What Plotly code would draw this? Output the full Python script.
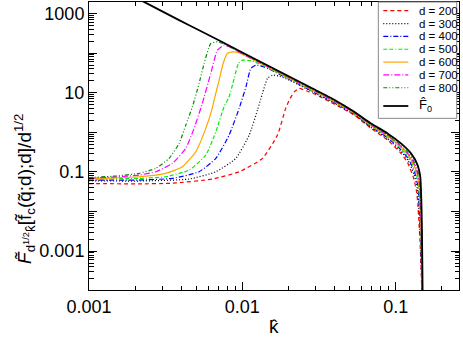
import plotly.graph_objects as go

# ---------------- data ----------------
series_names = ["d = 200", "d = 300", "d = 400", "d = 500", "d = 600", "d = 700", "d = 800"]

k_d200 = [0.001, 0.00212, 0.003497, 0.006379, 0.00953, 0.01353, 0.01694, 0.01917, 0.02021, 0.02178, 0.02349,
          0.02729, 0.03, 0.04, 0.05367, 0.0690, 0.08856, 0.1083, 0.11904, 0.1303, 0.13627, 0.13937, 0.14148,
          0.14407, 0.14801, 0.14801]
F_d200 = [0.051, 0.050, 0.052, 0.0662, 0.101, 0.220, 0.852, 4.02, 6.51, 10.5, 12.8,
          10.5, 9.08, 5.11, 2.723, 1.259, 0.6373, 0.2944, 0.1778, 0.07437, 0.03495, 0.01644, 0.006124,
          0.001914, 9.33e-5, 1e-5]

k_d300 = [0.001, 0.00212, 0.004495, 0.006714, 0.00907, 0.01108, 0.01255, 0.01353, 0.01458, 0.01572, 0.0175,
          0.02021, 0.02729, 0.04, 0.05367, 0.0690, 0.08856, 0.1083, 0.12039, 0.13198, 0.13791, 0.14073,
          0.14269, 0.14494, 0.14838, 0.14838]
F_d300 = [0.060, 0.059, 0.0662, 0.101, 0.220, 0.852, 3.64, 9.60, 22.9, 27.8, 26.1,
          20.8, 11.6, 5.38, 2.829, 1.334, 0.6890, 0.3307, 0.1967, 0.08548, 0.04078, 0.01912,
          0.006877, 0.002069, 9.55e-5, 1e-5]

k_d400 = [0.001, 0.00212, 0.003497, 0.005224, 0.006714, 0.008199, 0.00953, 0.01056, 0.01136, 0.01225, 0.0135,
          0.015, 0.02, 0.03, 0.04, 0.05367, 0.0690, 0.08856, 0.1083, 0.12142, 0.13326, 0.13918, 0.14174,
          0.14358, 0.14561, 0.14866, 0.14866]
F_d400 = [0.062, 0.0625, 0.0690, 0.1012, 0.2203, 0.852, 4.018, 14.09, 41.0, 49.7, 46.1,
          39.2, 22.2, 9.92, 5.58, 2.911, 1.393, 0.7304, 0.3608, 0.2121, 0.09491, 0.04579, 0.02141,
          0.007503, 0.002193, 9.72e-5, 1e-5]

k_d500 = [0.001, 0.00212, 0.003168, 0.004495, 0.005777, 0.006714, 0.0076, 0.008199, 0.008843, 0.009432,
          0.01001, 0.0115, 0.0135, 0.015, 0.02, 0.03, 0.04, 0.05367, 0.0690, 0.08856, 0.1083, 0.12243,
          0.13456, 0.14044, 0.14276, 0.14447, 0.14625, 0.1489, 0.1489]
F_d500 = [0.066, 0.0690, 0.0757, 0.1116, 0.2668, 1.033, 4.41, 7.88, 22.9, 54.8,
          66.4, 63.5, 49.5, 41.1, 23.1, 10.3, 5.80, 2.995, 1.455, 0.7745, 0.3936, 0.2288,
          0.10537, 0.05142, 0.02397, 0.008185, 0.002325, 9.89e-5, 1e-5]

k_d600 = [0.001, 0.0015, 0.00212, 0.003168, 0.004064, 0.004971, 0.005777, 0.006379, 0.006543, 0.007058,
          0.007494, 0.00798, 0.008616, 0.0095, 0.01, 0.015, 0.02, 0.03, 0.04, 0.05367, 0.0690, 0.08856,
          0.1083, 0.12311, 0.13546, 0.14128, 0.14345, 0.14511, 0.14672, 0.14911, 0.14911]
F_d600 = [0.069, 0.071, 0.0757, 0.0922, 0.1353, 0.3232, 1.258, 4.21, 6.51, 20.8,
          54.8, 98.0, 107.5, 103, 94.0, 42.2, 23.7, 10.6, 5.95, 3.053, 1.497, 0.8053,
          0.4173, 0.2406, 0.11298, 0.05556, 0.02585, 0.008673, 0.002417, 1.0e-4, 1e-5]

k_d700 = [0.001, 0.0015, 0.00212, 0.002724, 0.003497, 0.004277, 0.004845, 0.00544, 0.006226, 0.006879,
          0.0076, 0.008199, 0.01, 0.015, 0.02, 0.03, 0.04, 0.05367, 0.0690, 0.08856, 0.1083, 0.1238,
          0.13634, 0.14213, 0.14414, 0.14571, 0.14716, 0.14928, 0.14928]
F_d700 = [0.070, 0.075, 0.0835, 0.1012, 0.1648, 0.3937, 1.258, 4.87, 30.7, 118.7,
          158.7, 144.5, 96.4, 43.3, 24.3, 10.85, 6.10, 3.112, 1.542, 0.8372, 0.4421, 0.2531,
          0.12112, 0.06003, 0.02787, 0.009192, 0.002514, 1.012e-4, 1e-5]

k_d800 = [0.001, 0.0015, 0.00212, 0.002724, 0.003328, 0.003869, 0.004277, 0.004724, 0.005224, 0.005631,
          0.006226, 0.006879, 0.0076, 0.008199, 0.01, 0.015, 0.02, 0.03, 0.04, 0.05367, 0.0690, 0.08856,
          0.1083, 0.12453, 0.13722, 0.14302, 0.14484, 0.14632, 0.1476, 0.14945, 0.14945]
F_d800 = [0.072, 0.079, 0.0922, 0.1233, 0.2203, 0.526, 1.523, 4.41, 17.2, 54.8,
          175, 192, 168, 148, 99, 44.4, 24.9, 11.1, 6.25, 3.172, 1.587, 0.8705,
          0.4687, 0.2662, 0.1299, 0.0648, 0.03005, 0.00974, 0.002614, 1.023e-4, 1e-5]

k_F0 = [0.002, 0.002286, 0.003869, 0.005224, 0.01, 0.02729, 0.04, 0.05367, 0.0690, 0.08856, 0.1083,
        0.12589, 0.1390, 0.14471, 0.14627, 0.14757, 0.14849, 0.14983, 0.14997]
F_F0 = [2560, 1963, 678, 379, 104, 14.1, 6.58, 3.30, 1.681, 0.9408, 0.5263,
        0.2944, 0.1493, 0.0757, 0.03494, 0.01094, 0.002825, 1.047e-4, 1e-5]

x_tick_vals = [0.001, 0.01, 0.1]
x_tick_text = ["0.001", "0.01", "0.1"]
y_tick_vals = [1e-4, 1e-3, 1e-2, 1e-1, 1, 10, 100, 1000]
y_tick_text = ["", "0.001", "", "0.1", "", "10", "", "1000"]

# ---------------- styles ----------------
k_list = [k_d200, k_d300, k_d400, k_d500, k_d600, k_d700, k_d800]
F_list = [F_d200, F_d300, F_d400, F_d500, F_d600, F_d700, F_d800]
colors = ["#ff0000", "#000000", "#0000ff", "#00ee00", "#ffa500", "#ff00ff", "#008b00"]
dashes = ["4px,3px", "1px,2px", "5px,2px,1px,2px", "4px,2px,4px,2px,1px,2px", "solid",
          "6px,2px,1px,2px", "4px,2px,1px,2px,1px,2px"]

FONT = "Liberation Sans, Arial, Helvetica, sans-serif"

fig = go.Figure()
for kk, FF, nm, c, ds in zip(k_list, F_list, series_names, colors, dashes):
    fig.add_trace(go.Scatter(x=kk, y=FF, mode="lines", name=nm, showlegend=False,
                             line=dict(color=c, width=1.2, dash=ds, shape="spline", smoothing=0.5)))
fig.add_trace(go.Scatter(x=k_F0, y=F_F0, mode="lines", name="F̂0", showlegend=False,
                         line=dict(color="black", width=1.8, shape="spline", smoothing=0.5)))

minor_x = [m * 10.0 ** e for e in range(-3, 0) for m in range(2, 10)]
minor_y = [m * 10.0 ** e for e in range(-4, 4) for m in range(2, 10)]

axis_common = dict(type="log", showline=True, linecolor="black", linewidth=1, mirror="ticks",
                   ticks="inside", ticklen=8, tickcolor="black", tickwidth=1, showgrid=False,
                   zeroline=False, automargin=False,
                   tickfont=dict(family=FONT, size=18, color="black"))

fig.update_layout(
    width=463, height=340, autosize=False,
    margin=dict(l=89, r=4, t=2, b=50),
    paper_bgcolor="white", plot_bgcolor="white",
    xaxis=dict(range=[-3.0, -0.587], tickmode="array", tickvals=x_tick_vals, ticktext=x_tick_text,
               minor=dict(ticks="inside", ticklen=4, tickcolor="black", tickvals=minor_x, showgrid=False),
               **axis_common),
    yaxis=dict(range=[-3.98, 3.29], tickmode="array", tickvals=y_tick_vals, ticktext=y_tick_text,
               minor=dict(ticks="inside", ticklen=4.5, tickcolor="black", tickvals=minor_y, showgrid=False),
               **axis_common),
    showlegend=False,
)

# axis titles
fig.add_annotation(xref="paper", yref="paper", x=0.5, y=-0.125, text="k̂", showarrow=False,
                   font=dict(family=FONT, size=19, color="black"), xanchor="center", yanchor="middle")
fig.add_annotation(xref="paper", yref="paper", x=-0.173, y=0.351, textangle=-90, showarrow=False,
                   text="<i>F̃</i><sub>d<sup>1/2</sup>k̂</sub>[f̃<sub>c</sub>(q̃;d);d]/d<sup>1/2</sup>",
                   font=dict(family=FONT, size=19, color="black"), xanchor="center", yanchor="middle")

# legend box (drawn to match the compact reference legend)
leg_labels = series_names + ["F̂<sub>0</sub>"]
leg_colors = colors + ["black"]
leg_dashes = dashes + ["solid"]
leg_widths = [1.2] * 7 + [1.8]
fig.add_shape(type="rect", xref="paper", yref="paper", x0=0.782, x1=0.9938, y0=0.596, y1=1.0,
              line=dict(color="#888888", width=1), fillcolor="white", layer="above")
for i, (lab, c, ds, w) in enumerate(zip(leg_labels, leg_colors, leg_dashes, leg_widths)):
    yy = 0.9698 - i * 0.0446 if i < 7 else 0.6389
    fig.add_shape(type="line", xref="paper", yref="paper", x0=0.7954, x1=0.863, y0=yy, y1=yy,
                  line=dict(color=c, width=w, dash=ds), layer="above")
    fig.add_annotation(xref="paper", yref="paper", x=0.8857, y=yy, text=lab, showarrow=False,
                       xanchor="left", yanchor="middle",
                       font=dict(family=FONT, size=11.5 if i < 7 else 13, color="black"))

fig.write_html("out.html", config={"displayModeBar": False, "staticPlot": True},
               post_script="document.body.style.margin='0';document.body.style.padding='0';"
                           "document.body.style.overflow='hidden';")
